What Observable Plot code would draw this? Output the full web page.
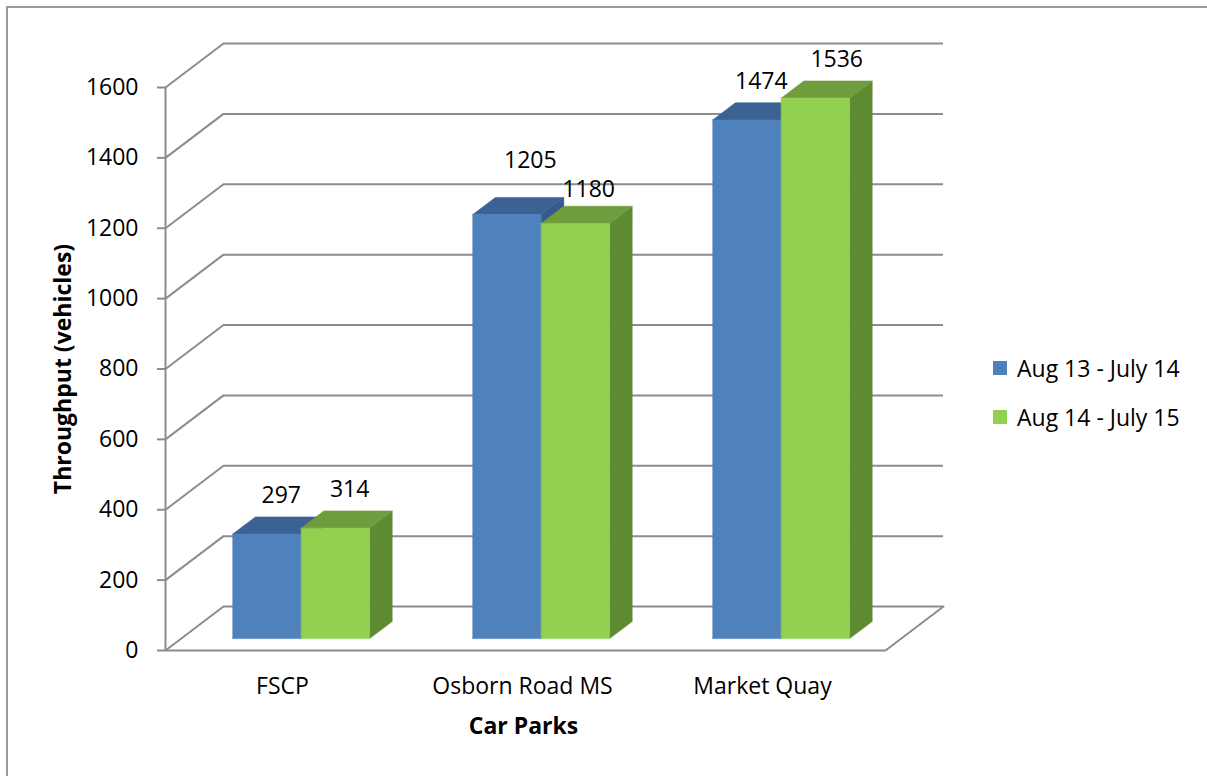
<!DOCTYPE html>
<html>
<head>
<meta charset="utf-8">
<script src="https://cdn.jsdelivr.net/npm/d3@7"></script>
<script src="https://cdn.jsdelivr.net/npm/@observablehq/plot@0.6"></script>
<style>
  html, body { margin: 0; padding: 0; background: #fff; overflow: hidden; }
  #wrap { position: relative; width: 1207px; height: 776px; overflow: hidden; font-family: "Open Sans", sans-serif; }
  #frame { position: absolute; left: 6px; top: 6px; width: 1400px; height: 1000px; border: 2px solid #9a9a9a; box-sizing: border-box; }
  #chart { position: absolute; left: 0; top: 0; }
  #legend { position: absolute; left: 993px; top: 353px; font-size: 23px; color: #000; }
  .row { display: flex; align-items: center; height: 30px; margin-bottom: 19px; white-space: nowrap; }
  .sw { width: 14px; height: 14px; margin-right: 10px; flex: none; }
</style>
</head>
<body>
<div id="wrap">
  <div id="frame"></div>
  <div id="chart"></div>
  <div id="legend"></div>
</div>
<script>
// ---- data ----
const carParks = ["FSCP", "Osborn Road MS", "Market Quay"];
const seriesNames = ["Aug 13 - July 14", "Aug 14 - July 15"];
const aug13July14 = [297, 1205, 1474];
const aug14July15 = [314, 1180, 1536];
const yTicks = [0, 200, 400, 600, 800, 1000, 1200, 1400, 1600];

// ---- styling / geometry (not data) ----
const seriesValues = [aug13July14, aug14July15];
const palette = [
  {front: "#4F81BD", top: "#3C6294", side: "#35598A"},
  {front: "#92D050", top: "#6F9D3D", side: "#5E8A31"}
];
const grid = "#8c8c8c";
const FS = 23;
const DX = 0.2417;   // depth offset in category units
const DY = 125;      // depth offset in value units
const t0 = 0.27, t1 = 0.66; // bar depth range (fraction of floor depth)
const fx = t0 * DX, fy = t0 * DY, bx = t1 * DX, by = t1 * DY;
const barW = 0.285;

// label nudges in px, keyed "series-category"
const nudge = {"0-1": [12, -45], "1-1": [2, -25], "1-2": [10, -30]};

// build face polygons in painter's order
const faces = [];
const labels = [];
carParks.forEach((cp, c) => {
  seriesValues.forEach((vals, s) => {
    const v = vals[c];
    const x0 = c + 0.5 + (s === 0 ? -barW : 0);
    const x1 = x0 + barW;
    const col = palette[s];
    const add = (id, color, pts) => {
      pts.concat([pts[0]]).forEach(([x, y]) => faces.push({id, color, x, y}));
    };
    add(`${c}-${s}-side`, col.side, [[x1 + fx, fy], [x1 + bx, by], [x1 + bx, v + by], [x1 + fx, v + fy]]);
    add(`${c}-${s}-top`, col.top, [[x0 + fx, v + fy], [x1 + fx, v + fy], [x1 + bx, v + by], [x0 + bx, v + by]]);
    add(`${c}-${s}-front`, col.front, [[x0 + fx, fy], [x1 + fx, fy], [x1 + fx, v + fy], [x0 + fx, v + fy]]);
    const n = nudge[`${s}-${c}`] || [3, -30];
    labels.push({x: (x0 + x1) / 2 + (fx + bx) / 2, y: v + (fy + by) / 2, text: String(v), dx: n[0], dy: n[1]});
  });
});

const chart = Plot.plot({
  width: 1207,
  height: 776,
  marginLeft: 165,
  marginRight: 322,
  marginTop: 87,
  marginBottom: 126,
  x: {domain: [0, 3], axis: null},
  y: {domain: [0, 1600], axis: "left", ticks: yTicks, tickSize: 8, tickPadding: 19, tickFormat: d => String(d), label: null},
  color: {type: "identity"},
  style: {fontFamily: "Open Sans, sans-serif", fontSize: FS + "px", background: "transparent", overflow: "visible", color: "#000"},
  marks: [
    // back wall gridlines
    Plot.ruleY(yTicks, {y: d => d + DY, x1: DX, x2: 3 + DX, stroke: grid, strokeWidth: 2}),
    // side wall diagonals
    Plot.link(yTicks, {x1: 0, y1: d => d, x2: DX, y2: d => d + DY, stroke: grid, strokeWidth: 2}),
    // floor front & right edges
    Plot.line([[0, 0], [3, 0], [3 + DX, DY]], {x: d => d[0], y: d => d[1], stroke: grid, strokeWidth: 2}),
    // front value axis line
    Plot.ruleX([0], {y1: 0, y2: 1600, stroke: grid, strokeWidth: 2}),
    // bars
    Plot.line(faces, {x: "x", y: "y", z: "id", fill: "color", stroke: "color", strokeWidth: 0.6, curve: "linear"}),
    // data labels
    ...labels.map(l => Plot.text([l], {x: "x", y: "y", text: "text", dx: l.dx, dy: l.dy, fill: "#000", fontSize: FS})),
    // category labels
    Plot.text(carParks, {x: (d, i) => i + 0.5, y: 0, dx: -3, dy: 36, fill: "#000", fontSize: FS}),
    // axis titles
    Plot.text(["Car Parks"], {x: 1.5, y: 0, dx: -2, dy: 76, fontWeight: "bold", fill: "#000", fontSize: FS}),
    Plot.text(["Throughput (vehicles)"], {x: 0, y: 800, dx: -102, rotate: -90, fontWeight: "bold", fill: "#000", fontSize: FS})
  ]
});
document.getElementById("chart").appendChild(chart);

// grey axis ticks
d3.select(chart).selectAll('[aria-label^="y-axis"] line, [aria-label^="y-axis"] path')
  .attr("stroke", grid).attr("stroke-width", 2);
d3.select(chart).selectAll('[aria-label^="y-axis"] text').attr("fill", "#000").style("font-size", FS + "px");

// legend
const legend = d3.select("#legend");
seriesNames.forEach((name, i) => {
  const row = legend.append("div").attr("class", "row");
  row.append("div").attr("class", "sw").style("background", palette[i].front);
  row.append("span").text(name);
});
</script>
</body>
</html>
